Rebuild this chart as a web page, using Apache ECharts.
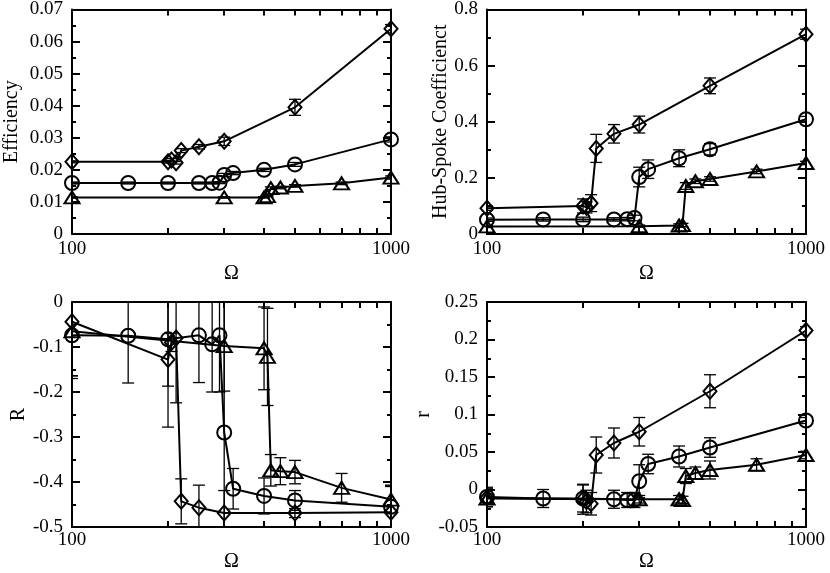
<!DOCTYPE html>
<html lang="en">
<head>
    <meta charset="UTF-8">
    <title>Efficiency / Hub-Spoke / R / r vs Omega</title>
    <script src="https://cdn.jsdelivr.net/npm/echarts@6/dist/echarts.min.js"></script>
    <style>
        html, body { margin: 0; padding: 0; background: #fff; }
        #chart { width: 830px; height: 573px; }
    </style>
</head>
<body>
    <div id="chart"></div>
    <script>
        // Omega values of the three sets (diamond, circle, triangle)
        var omegaD = [100, 200, 205, 212, 220, 250, 300, 500, 1000];
        var omegaC = [100, 150, 200, 250, 275, 290, 300, 320, 400, 500, 1000];
        var omegaT = [100, 300, 400, 410, 420, 450, 500, 700, 1000];

        // minor ticks of the log axis, labelled ticks
        var omegaMinor = [200, 300, 400, 500, 600, 700, 800, 900];
        var omegaLabels = [100, 1000];

        // Efficiency
        var effD = [0.0225, 0.0225, 0.0231, 0.0222, 0.0260, 0.0272, 0.0289, 0.0395, 0.0640];
        var effDErr = [0.0003, 0.0004, 0.0004, 0.0004, 0.0006, 0.0007, 0.0013, 0.0025, 0.0013];
        var effC = [0.0159, 0.0159, 0.0159, 0.0159, 0.0159, 0.0160, 0.0184, 0.0190, 0.0200, 0.0217, 0.0295];
        var effCErr = [0.0003, 0.0003, 0.0003, 0.0003, 0.0003, 0.0003, 0.0005, 0.0005, 0.0005, 0.0006, 0.0008];
        var effT = [0.0114, 0.0114, 0.0114, 0.0118, 0.0143, 0.0145, 0.0150, 0.0158, 0.0176];
        var effTErr = [0.0002, 0.0002, 0.0002, 0.0002, 0.0004, 0.0004, 0.0004, 0.0004, 0.0005];

        // Hub-Spoke coefficient
        var hubD = [0.092, 0.100, 0.095, 0.110, 0.305, 0.357, 0.390, 0.528, 0.712];
        var hubDErr = [0.008, 0.025, 0.020, 0.030, 0.050, 0.033, 0.030, 0.028, 0.018];
        var hubC = [0.051, 0.052, 0.052, 0.052, 0.053, 0.057, 0.203, 0.231, 0.270, 0.302, 0.409];
        var hubCErr = [0.006, 0.006, 0.008, 0.006, 0.006, 0.010, 0.035, 0.033, 0.030, 0.020, 0.010];
        var hubT = [0.027, 0.028, 0.030, 0.032, 0.171, 0.188, 0.196, 0.223, 0.253];
        var hubTErr = [0.004, 0.004, 0.006, 0.006, 0.012, 0.008, 0.008, 0.008, 0.006];

        // R
        var bigRD = [-0.044, -0.128, -0.090, -0.080, -0.443, -0.457, -0.469, -0.469, -0.467];
        var bigRDErr = [0.120, 0.150, 0.020, 0.144, 0.050, 0.050, 0.050, 0.010, 0.060];
        var bigRC = [-0.074, -0.075, -0.083, -0.074, -0.094, -0.074, -0.290, -0.415, -0.431, -0.441, -0.455];
        var bigRCErr = [0.090, 0.105, 0.104, 0.105, 0.106, 0.126, 0.300, 0.045, 0.040, 0.022, 0.045];
        var bigRT = [-0.065, -0.098, -0.103, -0.122, -0.374, -0.376, -0.378, -0.413, -0.439];
        var bigRTErr = [0.105, 0.100, 0.092, 0.108, 0.035, 0.030, 0.026, 0.032, 0.030];

        // r
        var smallRD = [-0.011, -0.013, -0.016, -0.019, 0.046, 0.062, 0.077, 0.131, 0.212];
        var smallRDErr = [0.012, 0.020, 0.015, 0.015, 0.024, 0.020, 0.019, 0.022, 0.005];
        var smallRC = [-0.010, -0.012, -0.012, -0.013, -0.014, -0.014, 0.011, 0.034, 0.044, 0.056, 0.092];
        var smallRCErr = [0.013, 0.012, 0.018, 0.012, 0.010, 0.010, 0.022, 0.013, 0.014, 0.013, 0.004];
        var smallRT = [-0.012, -0.013, -0.013, -0.014, 0.018, 0.022, 0.026, 0.033, 0.046];
        var smallRTErr = [0.006, 0.005, 0.005, 0.005, 0.010, 0.008, 0.012, 0.008, 0.005];

        var FONT = '"Liberation Serif", "DejaVu Serif", serif';

        // layout of the four panels
        var panels = [
            { title: 'Efficiency', min: 0, max: 0.07, interval: 0.01, left: 72, top: 9, nameGap: 50, labelGap: 6, omegaGap: 30,
              d: effD, de: effDErr, c: effC, ce: effCErr, t: effT, te: effTErr },
            { title: 'Hub-Spoke Coefficienct', min: 0, max: 0.8, interval: 0.2, left: 487, top: 9, nameGap: 36, labelGap: 6, omegaGap: 30,
              d: hubD, de: hubDErr, c: hubC, ce: hubCErr, t: hubT, te: hubTErr },
            { title: 'R', min: -0.5, max: 0, interval: 0.1, left: 72, top: 302, nameGap: 43, labelGap: 4, omegaGap: 25,
              d: bigRD, de: bigRDErr, c: bigRC, ce: bigRCErr, t: bigRT, te: bigRTErr },
            { title: 'r', min: -0.05, max: 0.25, interval: 0.05, left: 487, top: 302, nameGap: 53, labelGap: 4, omegaGap: 25,
              d: smallRD, de: smallRDErr, c: smallRC, ce: smallRCErr, t: smallRT, te: smallRTErr }
        ];

        var black = '#000';

        function renderErrorBar(params, api) {
            var x = api.value(0), y = api.value(1), e = api.value(2);
            var cs = params.coordSys;
            var hi = api.coord([x, y + e]);
            var lo = api.coord([x, y - e]);
            var px = hi[0];
            var style = { stroke: black, lineWidth: 1.3, fill: null };
            var kids = [{
                type: 'line',
                shape: { x1: px, y1: Math.max(hi[1], cs.y), x2: px, y2: Math.min(lo[1], cs.y + cs.height) },
                style: style
            }];
            [hi[1], lo[1]].forEach(function (cy) {
                if (cy >= cs.y && cy <= cs.y + cs.height) {
                    kids.push({
                        type: 'line',
                        shape: { x1: Math.max(px - 6, cs.x), y1: cy, x2: Math.min(px + 6, cs.x + cs.width), y2: cy },
                        style: style
                    });
                }
            });
            return { type: 'group', children: kids };
        }

        function pairs(xs, ys) {
            return xs.map(function (x, k) { return [x, ys[k]]; });
        }

        function errSeries(i, xs, ys, es) {
            return {
                type: 'custom',
                xAxisIndex: 3 * i,
                yAxisIndex: 2 * i,
                data: xs.map(function (x, k) { return [x, ys[k], es[k]]; }),
                renderItem: renderErrorBar,
                silent: true,
                z: 2
            };
        }

        function lineSeries(i, xs, ys, sym, size) {
            return {
                type: 'line',
                xAxisIndex: 3 * i,
                yAxisIndex: 2 * i,
                data: pairs(xs, ys),
                symbol: sym,
                symbolSize: size,
                showAllSymbol: true,
                clip: false,
                silent: true,
                lineStyle: { color: black, width: 2 },
                itemStyle: { color: 'rgba(0,0,0,0)', borderColor: black, borderWidth: 2 },
                emphasis: { disabled: true },
                z: 3
            };
        }

        var grids = [], xAxes = [], yAxes = [], series = [];
        var minorLog = omegaMinor.map(function (v) { return Math.log10(v); });

        panels.forEach(function (p, i) {
            grids.push({ left: p.left, top: p.top, width: 319, height: 225 });

            // data axis (log)
            xAxes.push({
                type: 'log', gridIndex: i, min: 100, max: 1000, logBase: 10, position: 'bottom',
                axisLine: { show: true, onZero: false, lineStyle: { color: black, width: 2 } },
                axisTick: { show: false },
                splitLine: { show: false },
                axisLabel: {
                    customValues: omegaLabels,
                    color: black, fontFamily: FONT, fontSize: 19, margin: p.labelGap,
                    formatter: function (v) { return String(Math.round(v)); }
                },
                name: 'Ω', nameLocation: 'middle', nameGap: p.omegaGap,
                nameTextStyle: { color: black, fontFamily: FONT, fontSize: 20 }
            });
            // minor ticks bottom / top, in log10 units
            ['bottom', 'top'].forEach(function (pos) {
                xAxes.push({
                    type: 'value', gridIndex: i, min: 2, max: 3, position: pos,
                    axisLine: { show: pos === 'top', onZero: false, lineStyle: { color: black, width: 2 } },
                    axisTick: { show: true, inside: true, length: 6, customValues: minorLog, lineStyle: { color: black, width: 2 } },
                    axisLabel: { show: false },
                    splitLine: { show: false }
                });
            });

            ['left', 'right'].forEach(function (pos) {
                yAxes.push({
                    type: 'value', gridIndex: i, min: p.min, max: p.max, interval: p.interval, position: pos,
                    axisLine: { show: true, onZero: false, lineStyle: { color: black, width: 2 } },
                    axisTick: { show: true, inside: true, length: 8, lineStyle: { color: black, width: 2 } },
                    minorTick: { show: true, splitNumber: 2, length: 4, lineStyle: { color: black, width: 2 } },
                    splitLine: { show: false },
                    minorSplitLine: { show: false },
                    axisLabel: { show: pos === 'left', color: black, fontFamily: FONT, fontSize: 19, margin: 9 },
                    name: pos === 'left' ? p.title : '',
                    nameLocation: 'middle', nameRotate: 90, nameGap: p.nameGap,
                    nameTextStyle: { color: black, fontFamily: FONT, fontSize: 20 }
                });
            });

            series.push(errSeries(i, omegaD, p.d, p.de));
            series.push(errSeries(i, omegaC, p.c, p.ce));
            series.push(errSeries(i, omegaT, p.t, p.te));
            series.push(lineSeries(i, omegaD, p.d, 'diamond', [13, 15]));
            series.push(lineSeries(i, omegaC, p.c, 'circle', 14));
            series.push(lineSeries(i, omegaT, p.t, 'triangle', [15, 12]));
        });

        var chart = echarts.init(document.getElementById('chart'));
        chart.setOption({
            animation: false,
            backgroundColor: '#fff',
            grid: grids,
            xAxis: xAxes,
            yAxis: yAxes,
            series: series
        });
    </script>
</body>
</html>
